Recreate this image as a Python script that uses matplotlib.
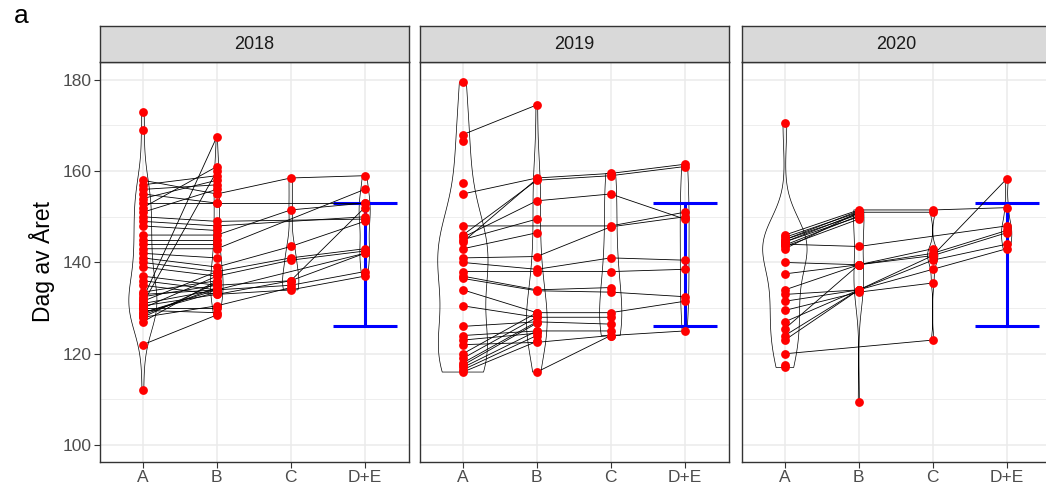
import numpy as np
import matplotlib.pyplot as plt

nan = np.nan

categories = ["A", "B", "C", "D+E"]
years = ["2018", "2019", "2020"]

# one row per individual, stage values in day of year (nan = not observed)
a_2018 = [173, 169, 158, 157, 156, 155, 154, 153, 152, 151, 150, 149, 148, 146, 145, 144, 143, 142,
          141, 140, 139, 137, 136, 135, 133, 132, 131, 130.5, 130, 129.5, 129, 128, 127, 122, 112,
          133.5, 132.5, 131.5, 131, 130, 129, 128.5, 128]
b_2018 = [nan, nan, 155, 159, 157, 153, 158, 153, 161, 156, 149, 148, 147, 146, 145, 144, 143, 141,
          139, 138, 137, 135, 134, 133, 134, 167.5, 160, 133, 130, 129, 134, 130.5, 136, 128.5, nan,
          136, 135, 138, 134, 137, 133.5, 134.5, 135.5]
c_2018 = [nan, nan, 158.5, nan, nan, nan, nan, nan, nan, nan, nan, nan, nan, 151.5, nan, nan, nan, nan,
          143.5, 141, 140.5, 136, 135, 134, nan, nan, nan, 136, nan, nan, nan, 134.5, nan, nan, nan,
          nan, nan, nan, nan, nan, nan, nan, nan]
de_2018 = [nan, nan, 159, nan, nan, nan, nan, 153, nan, nan, 149.5, 150, nan, 153, nan, nan, 156, nan,
           149, 143, 142.5, 142, 138, 137, nan, nan, nan, 152, nan, nan, 142, nan, nan, nan, nan,
           nan, nan, nan, nan, nan, nan, nan, nan]

a_2019 = [179.5, 168, 166.5, 157.5, 155, 148, 146, 145.5, 145, 144.5, 143, 141, 140, 138, 137,
          136.5, 134, 130.5, 126, 124, 123, 122, 120, 119, 118, 117.5, 117, 116.5, 116, nan]
b_2019 = [nan, 174.5, nan, nan, 158.5, nan, 158, 153.5, 149.5, 158.3, 146.5, 141.3, 138.5, 138, 134,
          133.8, 129, 128, 127, 125, 124.5, 122.5, 129, 128, 127, 126.7, 125, 124, 122.7, 116]
c_2019 = [nan, nan, nan, nan, 159.5, 148, 159, 155, nan, nan, nan, 147.8, 141, 138, 134.5,
          133.5, 129, 128, 126.5, 125, nan, 124, nan, nan, nan, nan, nan, nan, nan, 124]
de_2019 = [nan, nan, nan, nan, 161.5, 151, 161, 149.5, nan, nan, nan, 150, 140.5, 138.5, nan,
           132.5, 131.5, nan, nan, nan, nan, nan, nan, nan, nan, nan, nan, nan, nan, 125]

a_2020 = [170.5, 146, 145.5, 145, 144.5, 144, 143.5, 143, 140, 137.5, 134, 133, 131.5, 129.5, 127,
          125.5, 124, 123, 120, 117.5, 117, nan, 145, 144.5, 143.8]
b_2020 = [nan, 151.5, 151, 150.5, 150, 143.5, 149.5, 151, 139.5, 139.5, 139.5, 134, 134, 133.5, 134,
          139.5, 134, 134, nan, nan, nan, 109.5, 151.3, 150.8, 150.2]
c_2020 = [nan, 151.5, 151, nan, nan, nan, nan, nan, 142, 141.5, 143, 140.5, 138.5, 135.5, 141.5,
          nan, nan, nan, 123, nan, nan, nan, nan, nan, nan]
de_2020 = [nan, 152, nan, nan, nan, 148, nan, nan, 147, 146.5, nan, 144, 143, nan, 158.3,
           nan, nan, nan, nan, nan, nan, nan, nan, nan, nan]

# reference interval shown at D+E
ref_low = 126
ref_high = 153

stages = {
    "2018": [a_2018, b_2018, c_2018, de_2018],
    "2019": [a_2019, b_2019, c_2019, de_2019],
    "2020": [a_2020, b_2020, c_2020, de_2020],
}
violin_widths = {
    "2018": [0.38, 0.17, 0.22, 0.15],
    "2019": [0.68, 0.28, 0.30, 0.12],
    "2020": [0.60, 0.14, 0.14, 0.14],
}


def nrd0(kde):
    # R's default bandwidth, returned as a factor of the sample std
    d = np.ravel(kde.dataset)
    sd = d.std(ddof=1)
    q75, q25 = np.percentile(d, [75, 25])
    lo = min(sd, (q75 - q25) / 1.34) or sd
    return 0.9 * lo * len(d) ** -0.2 / sd


plt.rcParams["font.family"] = ["Liberation Sans", "DejaVu Sans"]

fig = plt.figure(figsize=(10.46, 4.93), dpi=100)
W, H = 1046, 493
panel_left = [100, 420, 742]
panel_w = 309
panel_top, panel_bottom = 62, 462
strip_top = 26

x = np.arange(1, len(categories) + 1)

for i, year in enumerate(years):
    ax = fig.add_axes([panel_left[i] / W, (H - panel_bottom) / H,
                       panel_w / W, (panel_bottom - panel_top) / H])
    cols = [np.array(c, dtype=float) for c in stages[year]]

    # violins
    data = [c[~np.isnan(c)] for c in cols]
    parts = ax.violinplot(data, positions=x, widths=violin_widths[year],
                          showextrema=False, bw_method=nrd0, points=200)
    for body in parts["bodies"]:
        body.set_facecolor("none")
        body.set_edgecolor("black")
        body.set_linewidth(0.5)
        body.set_alpha(1)
        body.set_zorder(2)

    # reference interval
    ax.errorbar([4], [(ref_low + ref_high) / 2], yerr=[[(ref_high - ref_low) / 2]],
                fmt="none", ecolor="#0000FF", elinewidth=2.2, capsize=23, capthick=2.2,
                zorder=3)

    # individual trajectories
    rows = np.column_stack(cols)
    for row in rows:
        ok = ~np.isnan(row)
        if ok.sum() > 1:
            ax.plot(x[ok], row[ok], color="black", lw=0.6, zorder=4)

    for xi, c in zip(x, cols):
        v = c[~np.isnan(c)]
        ax.scatter(np.full(len(v), xi), v, s=40, color="#FF0000", lw=0, zorder=5)

    ax.set_xlim(0.42, 4.6)
    ax.set_ylim(96.3, 183.9)
    ax.set_xticks(x)
    ax.set_xticklabels(categories)
    ax.set_yticks([100, 120, 140, 160, 180])
    ax.set_yticks([110, 130, 150, 170], minor=True)
    ax.grid(which="major", color="#EBEBEB", lw=1.1)
    ax.grid(which="minor", axis="y", color="#EBEBEB", lw=0.6)
    ax.set_axisbelow(True)
    ax.tick_params(which="major", length=4, width=0.8, color="#333333",
                   labelcolor="#4D4D4D", labelsize=12.5, pad=2)
    ax.tick_params(which="minor", length=0)
    if i > 0:
        ax.tick_params(axis="y", which="both", left=False, labelleft=False)
    for s in ax.spines.values():
        s.set_color("#333333")
        s.set_linewidth(1.0)

    # facet strip
    st = fig.add_axes([panel_left[i] / W, (H - panel_top) / H,
                       panel_w / W, (panel_top - strip_top) / H])
    st.set_facecolor("#D9D9D9")
    st.set_xticks([])
    st.set_yticks([])
    for s in st.spines.values():
        s.set_color("#333333")
        s.set_linewidth(1.0)
    st.text(0.5, 0.48, year, ha="center", va="center", fontsize=13, color="#1A1A1A",
            transform=st.transAxes)

fig.text(42 / W, (H - 262) / H, "Dag av Året", rotation=90, ha="center", va="center",
         fontsize=16.5)
fig.text(21 / W, (H - 23) / H, "a", ha="center", va="baseline", fontsize=19)

fig.savefig("out.png", dpi=100)
